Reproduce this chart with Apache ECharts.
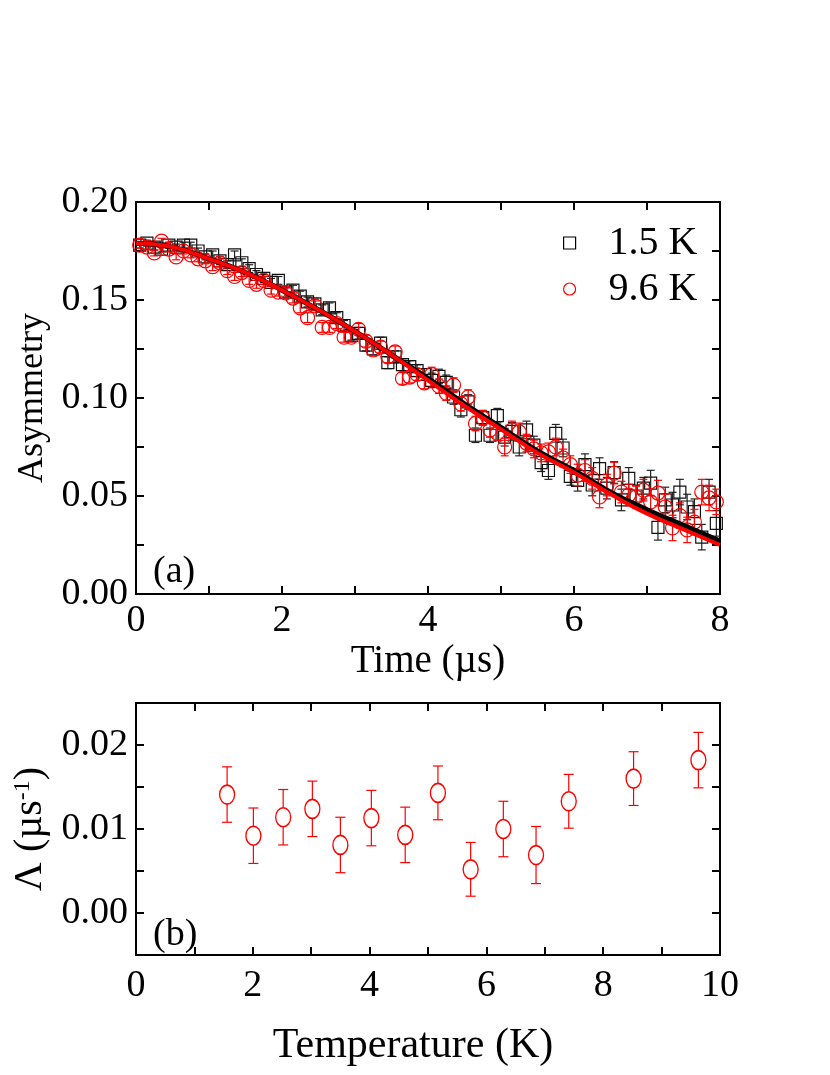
<!DOCTYPE html>
<html>
<head>
<meta charset="utf-8">
<script src="https://cdn.jsdelivr.net/npm/echarts@6/dist/echarts.min.js"></script>
<style>
html,body{margin:0;padding:0;background:#fff;}
#chart{width:830px;height:1075px;}
</style>
</head>
<body>
<div id="chart"></div>
<script>
// ---------- Panel (a): asymmetry vs time ----------
const timeBins = [0.05,0.15,0.25,0.35,0.45,0.55,0.65,0.75,0.85,0.95,
  1.05,1.15,1.25,1.35,1.45,1.55,1.65,1.75,1.85,1.95,
  2.05,2.15,2.25,2.35,2.45,2.55,2.65,2.75,2.85,2.95,
  3.05,3.15,3.25,3.35,3.45,3.55,3.65,3.75,3.85,3.95,
  4.05,4.15,4.25,4.35,4.45,4.55,4.65,4.75,4.85,4.95,
  5.05,5.15,5.25,5.35,5.45,5.55,5.65,5.75,5.85,5.95,
  6.05,6.15,6.25,6.35,6.45,6.55,6.65,6.75,6.85,6.95,
  7.05,7.15,7.25,7.35,7.45,7.55,7.65,7.75,7.85,7.95];

const asym15K = [0.178,0.179,0.177,0.176,0.178,0.177,0.178,0.178,0.175,0.172,
  0.173,0.170,0.168,0.173,0.169,0.166,0.163,0.161,0.159,0.160,
  0.154,0.155,0.152,0.149,0.148,0.145,0.146,0.141,0.137,0.132,
  0.133,0.127,0.125,0.128,0.118,0.121,0.117,0.116,0.114,0.112,
  0.109,0.111,0.108,0.1005,0.094,0.098,0.081,0.090,0.081,0.091,
  0.080,0.083,0.075,0.0837,0.076,0.067,0.063,0.082,0.0745,0.060,
  0.058,0.066,0.0556,0.064,0.054,0.062,0.048,0.059,0.050,0.054,
  0.0566,0.034,0.048,0.0454,0.052,0.0444,0.042,0.029,0.052,0.036];

const asym96K = [0.178,0.177,0.174,0.180,0.176,0.172,0.175,0.173,0.171,0.170,
  0.167,0.169,0.165,0.162,0.164,0.160,0.158,0.160,0.155,0.154,
  0.1536,0.151,0.146,0.141,0.147,0.136,0.136,0.138,0.131,0.131,
  0.135,0.129,0.1245,0.126,0.121,0.1235,0.110,0.1107,0.112,0.1077,
  0.112,0.106,0.1025,0.1066,0.097,0.1005,0.087,0.0898,0.0837,0.082,
  0.075,0.0837,0.0827,0.077,0.074,0.072,0.0725,0.075,0.0694,0.066,
  0.0607,0.063,0.059,0.0495,0.0556,0.0617,0.052,0.0505,0.0495,0.053,
  0.047,0.0515,0.0444,0.0337,0.040,0.0327,0.0367,0.052,0.049,0.047];

const asymErr = [0.0015,0.0015,0.0015,0.0015,0.0015,0.0015,0.0015,0.0015,0.0015,0.0015,
  0.002,0.002,0.002,0.002,0.002,0.002,0.002,0.002,0.002,0.002,
  0.0025,0.0025,0.0025,0.0025,0.0025,0.0025,0.0025,0.0025,0.0025,0.0025,
  0.003,0.003,0.003,0.003,0.003,0.003,0.003,0.003,0.003,0.003,
  0.0037,0.0037,0.0037,0.0037,0.0037,0.0037,0.0037,0.0037,0.0037,0.0037,
  0.0045,0.0045,0.0045,0.0045,0.0045,0.0045,0.0045,0.0045,0.0045,0.0045,
  0.0055,0.0055,0.0055,0.0055,0.0055,0.0055,0.0055,0.0055,0.0055,0.0055,
  0.0065,0.0065,0.0065,0.0065,0.0065,0.0065,0.0065,0.0065,0.0065,0.0065];

const fitTimes = [0,0.5,1,1.5,2,2.5,3,3.5,4,4.5,5,5.5,6,6.5,7,7.5,8];
const fit15K = [0.179,0.177,0.171,0.164,0.155,0.145,0.134,0.122,0.110,0.097,0.085,0.073,0.063,0.052,0.043,0.035,0.027];
const fit96K = [0.179,0.177,0.171,0.164,0.155,0.145,0.134,0.122,0.109,0.096,0.084,0.072,0.062,0.051,0.041,0.033,0.025];

// ---------- Panel (b): relaxation rate vs temperature ----------
const temps = [1.56,2.01,2.52,3.02,3.50,4.03,4.61,5.17,5.73,6.29,6.85,7.41,8.52,9.63];
const lambda = [0.0141,0.0092,0.0114,0.0124,0.0081,0.0113,0.0093,0.0143,0.0052,0.0100,0.0069,0.0133,0.0160,0.0182];
const lambdaErr = [0.0033,0.0033,0.0033,0.0033,0.0033,0.0033,0.0033,0.0032,0.0032,0.0033,0.0034,0.0032,0.0032,0.0033];

const seriesNames = ['1.5 K','9.6 K'];

const FONT = '"Liberation Serif","Times New Roman",serif';

function zip3(a,b,c){ return a.map((v,i)=>[v,b[i],c[i]]); }
function zip2(a,b){ return a.map((v,i)=>[v,b[i]]); }

function errRender(color, cap){
  return function(params, api){
    const x = api.value(0), y = api.value(1), e = api.value(2);
    const p1 = api.coord([x, y + e]);
    const p2 = api.coord([x, y - e]);
    const st = {stroke: color, lineWidth: 1.2};
    return {type:'group', children:[
      {type:'line', shape:{x1:p1[0],y1:p1[1],x2:p2[0],y2:p2[1]}, style:st},
      {type:'line', shape:{x1:p1[0]-cap,y1:p1[1],x2:p1[0]+cap,y2:p1[1]}, style:st},
      {type:'line', shape:{x1:p2[0]-cap,y1:p2[1],x2:p2[0]+cap,y2:p2[1]}, style:st}
    ]};
  };
}

const axisLineStyle = {onZero:false, lineStyle:{color:'#000', width:2}};
const tickStyle = {inside:true, length:8, lineStyle:{color:'#000', width:2}};
const labelFont = {color:'#000', fontFamily:FONT, fontSize:38};

function fmtEvery(step, dec){
  return function(v){
    const r = v/step;
    return Math.abs(r - Math.round(r)) < 1e-6 ? (Math.abs(v) < 1e-9 ? (0).toFixed(dec) : v.toFixed(dec)) : '';
  };
}

const option = {
  animation:false,
  backgroundColor:'#fff',
  grid:[
    {left:136, top:202, width:584, height:392, outerBoundsMode:'none', containLabel:false},
    {left:136, top:703, width:584, height:252, outerBoundsMode:'none', containLabel:false}
  ],
  xAxis:[
    {gridIndex:0, type:'value', min:0, max:8, interval:1, position:'bottom',
     name:'Time (µs)', nameLocation:'middle', nameGap:48,
     nameTextStyle:{color:'#000', fontFamily:FONT, fontSize:39},
     axisLine:axisLineStyle, axisTick:tickStyle, splitLine:{show:false},
     axisLabel:Object.assign({margin:8, formatter:fmtEvery(2,0)}, labelFont)},
    {gridIndex:0, type:'value', min:0, max:8, interval:1, position:'top',
     axisLine:axisLineStyle, axisTick:tickStyle, splitLine:{show:false}, axisLabel:{show:false}},
    {gridIndex:1, type:'value', min:0, max:10, interval:1, position:'bottom',
     name:'Temperature (K)', nameLocation:'middle', nameGap:70,
     nameTextStyle:{color:'#000', fontFamily:FONT, fontSize:42, padding:[0,30,0,0]},
     axisLine:axisLineStyle, axisTick:tickStyle, splitLine:{show:false},
     axisLabel:Object.assign({margin:12, formatter:fmtEvery(2,0)}, labelFont)},
    {gridIndex:1, type:'value', min:0, max:10, interval:1, position:'top',
     axisLine:axisLineStyle, axisTick:tickStyle, splitLine:{show:false}, axisLabel:{show:false}}
  ],
  yAxis:[
    {gridIndex:0, type:'value', min:0, max:0.2, interval:0.025, position:'left',
     name:'Asymmetry', nameLocation:'middle', nameGap:70, nameRotate:90,
     nameTextStyle:{color:'#000', fontFamily:FONT, fontSize:36},
     axisLine:axisLineStyle, axisTick:tickStyle, splitLine:{show:false},
     axisLabel:Object.assign({margin:8, formatter:fmtEvery(0.05,2)}, labelFont)},
    {gridIndex:0, type:'value', min:0, max:0.2, interval:0.025, position:'right',
     axisLine:axisLineStyle, axisTick:tickStyle, splitLine:{show:false}, axisLabel:{show:false}},
    {gridIndex:1, type:'value', min:-0.005, max:0.025, interval:0.005, position:'left',
     name:'Λ (µs{sup|-1})', nameLocation:'middle', nameGap:73, nameRotate:90,
     nameTextStyle:{color:'#000', fontFamily:FONT, fontSize:40,
       rich:{sup:{fontFamily:FONT, fontSize:24, color:'#000', verticalAlign:'top', padding:[0,0,16,0]}}},
     axisLine:axisLineStyle, axisTick:tickStyle, splitLine:{show:false},
     axisLabel:Object.assign({margin:8, formatter:fmtEvery(0.01,2)}, labelFont)},
    {gridIndex:1, type:'value', min:-0.005, max:0.025, interval:0.005, position:'right',
     axisLine:axisLineStyle, axisTick:tickStyle, splitLine:{show:false}, axisLabel:{show:false}}
  ],
  legend:{
    left:558, top:218, orient:'vertical', itemGap:6,
    itemWidth:12, itemHeight:12,
    textStyle:{color:'#000', fontFamily:FONT, fontSize:40, padding:[0,0,0,28]},
    data:[
      {name:seriesNames[0], icon:'rect', itemStyle:{color:'rgba(0,0,0,0)', borderColor:'#000', borderWidth:1.2}},
      {name:seriesNames[1], icon:'circle', itemStyle:{color:'rgba(0,0,0,0)', borderColor:'#ff0000', borderWidth:1.2}}
    ]
  },
  graphic:[
    {type:'text', left:153, top:553, style:{text:'(a)', fill:'#000', font:'38px '+FONT}},
    {type:'text', left:153, top:916, style:{text:'(b)', fill:'#000', font:'38px '+FONT}}
  ],
  series:[
    {type:'custom', xAxisIndex:0, yAxisIndex:0, renderItem:errRender('#222',4),
     data:zip3(timeBins, asym15K, asymErr), encode:{x:0,y:1}, z:2, silent:true},
    {name:seriesNames[0], type:'scatter', xAxisIndex:0, yAxisIndex:0, symbol:'rect', symbolSize:12,
     itemStyle:{color:'rgba(0,0,0,0)', borderColor:'#111', borderWidth:1.2, opacity:1},
     data:zip2(timeBins, asym15K), z:3},
    {type:'custom', xAxisIndex:0, yAxisIndex:0, renderItem:errRender('#ff0000',4),
     data:zip3(timeBins, asym96K, asymErr), encode:{x:0,y:1}, z:4, silent:true},
    {name:seriesNames[1], type:'scatter', xAxisIndex:0, yAxisIndex:0, symbol:'circle', symbolSize:14,
     itemStyle:{color:'rgba(0,0,0,0)', borderColor:'#ff0000', borderWidth:1.2, opacity:1},
     data:zip2(timeBins, asym96K), z:5},
    {type:'line', xAxisIndex:0, yAxisIndex:0, smooth:true, showSymbol:false, symbol:'none',
     lineStyle:{color:'#000', width:5}, data:zip2(fitTimes, fit15K), z:6, silent:true},
    {type:'line', xAxisIndex:0, yAxisIndex:0, smooth:true, showSymbol:false, symbol:'none',
     lineStyle:{color:'#ff0000', width:4}, data:zip2(fitTimes, fit96K), z:7, silent:true},
    {type:'custom', xAxisIndex:2, yAxisIndex:2, renderItem:errRender('#ff0000',5),
     data:zip3(temps, lambda, lambdaErr), encode:{x:0,y:1}, z:2, silent:true},
    {type:'scatter', xAxisIndex:2, yAxisIndex:2, symbol:'circle', symbolSize:[15,19],
     itemStyle:{color:'#fff', borderColor:'#ff0000', borderWidth:1.5, opacity:1},
     data:zip2(temps, lambda), z:3}
  ]
};

const chart = echarts.init(document.getElementById('chart'), null, {renderer:'canvas'});
chart.setOption(option);
</script>
</body>
</html>
